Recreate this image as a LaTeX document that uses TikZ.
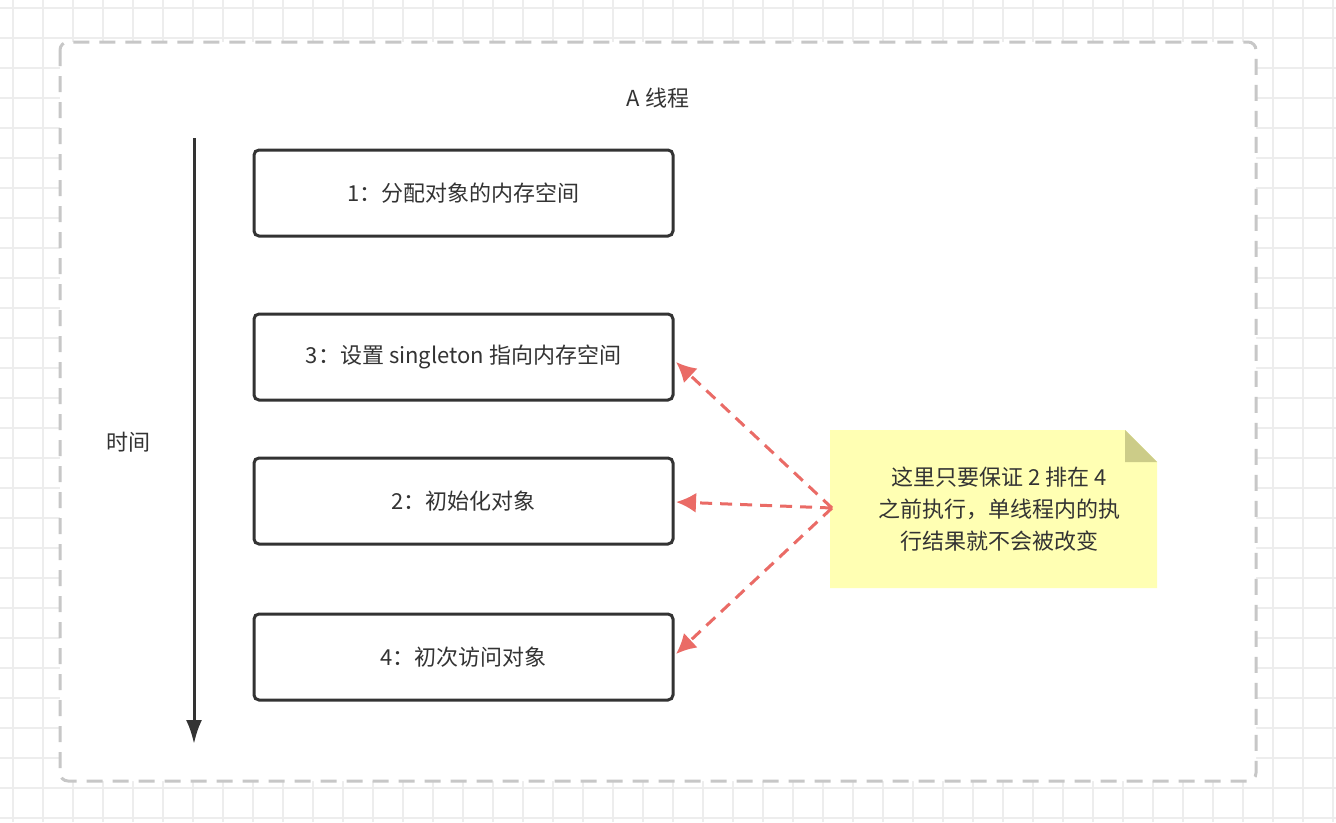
\documentclass[tikz,border=0pt]{standalone}
\usepackage{fontspec}
\setmainfont{Noto Sans CJK SC}
\usetikzlibrary{arrows.meta}
\definecolor{txt}{HTML}{333333}
\definecolor{redl}{HTML}{EA6B66}
\definecolor{notey}{HTML}{FFFFB3}
\definecolor{fold}{HTML}{CCCC88}
\begin{document}
\begin{tikzpicture}[x=1pt,y=-1pt,
  stepbox/.style={draw=txt,line width=3pt,rounded corners=5pt,minimum width=419pt,minimum height=86pt,text=txt,font=\fontsize{22}{26}\selectfont,inner sep=0pt},
  lbl/.style={text=txt,font=\fontsize{22}{26}\selectfont},
  ptr/.style={draw=redl,line width=3pt,dash pattern=on 12pt off 8pt,-{Latex[length=20pt,width=20pt]}}]
\useasboundingbox (0,0) rectangle (1336,822);
\fill[white] (0,0) rectangle (1336,822);
\foreach \x in {13,43,...,1336} \draw[black!7,line width=1.5pt] (\x,0) -- (\x,822);
\foreach \y in {8,38,...,822} \draw[black!7,line width=1.5pt] (0,\y) -- (1336,\y);
\draw[black!22,line width=3pt,dash pattern=on 16pt off 10pt,rounded corners=8pt,fill=white] (60,42) rectangle (1256,781);
\node[lbl] (title) at (658,98) {A 线程};
\node[lbl] (time) at (128,442) {时间};
\coordinate (ts) at (194,138);
\coordinate (te) at (194,744);
\draw[txt,line width=3pt,-{Latex[length=24pt,width=16pt]}] (ts) -- (te);
\node[stepbox] (s1) at (463.5,193) {1：分配对象的内存空间};
\node[stepbox] (s3) at (463.5,357) {3：设置 singleton 指向内存空间};
\node[stepbox] (s2) at (463.5,501) {2：初始化对象};
\node[stepbox] (s4) at (463.5,657) {4：初次访问对象};
\fill[notey] (830,430) -- (1125,430) -- (1157,462) -- (1157,588) -- (830,588) -- cycle;
\fill[fold] (1125,430) -- (1157,462) -- (1125,462) -- cycle;
\node[lbl,align=center,font=\fontsize{22}{32}\selectfont] (note) at (999,509) {这里只要保证 2 排在 4\\之前执行，单线程内的执\\行结果就不会被改变};
\coordinate (src) at (832,508);
\draw[ptr] (src) -- (676,362);
\draw[ptr] (src) -- (676,502);
\draw[ptr] (src) -- (676,654);
\end{tikzpicture}
\end{document}
